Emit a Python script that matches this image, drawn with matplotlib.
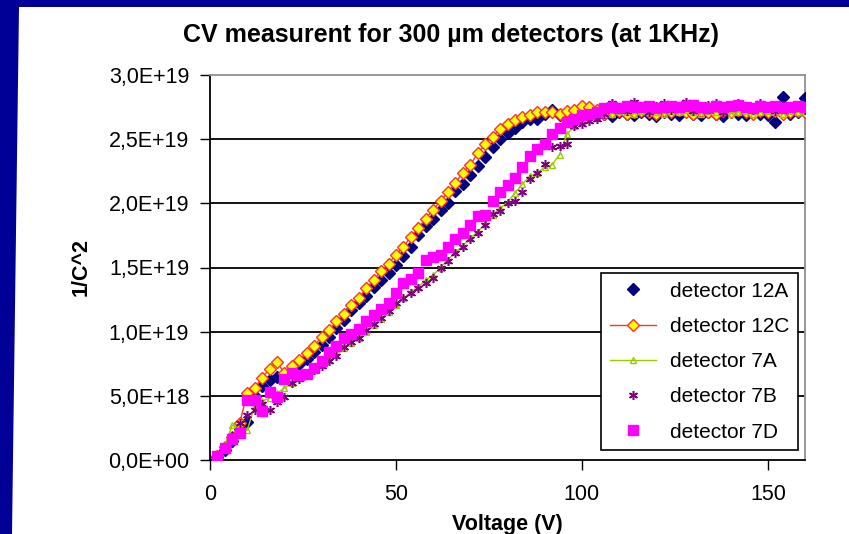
import matplotlib.pyplot as plt
from matplotlib.patches import Polygon
import numpy as np

plt.rcParams['font.family'] = ['Liberation Sans', 'DejaVu Sans']

# Data (1/C^2 in units of 1E+18)
voltage = [2, 4, 6, 8, 10, 12, 14, 16, 18, 20,
           22, 24, 26, 28, 30, 32, 34, 36, 38, 40,
           42, 44, 46, 48, 50, 52, 54, 56, 58, 60,
           62, 64, 66, 68, 70, 72, 74, 76, 78, 80,
           82, 84, 86, 88, 90, 92, 94, 96, 98, 100,
           102, 104, 106, 108, 110, 112, 114, 116, 118, 120,
           122, 124, 126, 128, 130, 132, 134, 136, 138, 140,
           142, 144, 146, 148, 150, 152, 154, 156, 158, 160]

det_12A = [0.2, 0.8, 1.5, 2.4, 3.0, 5.0, 5.8, 6.2, 6.5, 6.6,
           7.0, 7.5, 7.9, 8.4, 9.0, 9.6, 10.3, 10.9, 11.7, 12.2,
           12.8, 13.5, 14.0, 14.6, 15.2, 15.9, 16.6, 17.5, 18.2, 18.8,
           19.5, 20.0, 21.0, 21.5, 22.2, 22.9, 23.6, 24.4, 25.0, 25.5,
           25.9, 26.3, 26.6, 26.6, 27.0, 27.3, 26.9, 27.0, 27.1, 27.0,
           27.2, 26.9, 27.0, 26.8, 27.1, 27.0, 26.9, 27.1, 27.0, 26.8,
           27.1, 27.0, 26.9, 27.2, 27.0, 26.9, 27.1, 27.0, 26.8, 27.1,
           27.0, 26.9, 27.1, 27.0, 26.9, 26.3, 28.3, 27.0, 27.1, 28.2]

det_12C = [0.3, 1.0, 1.8, 2.9, 5.2, 5.6, 6.4, 7.1, 7.6, 6.8,
           7.3, 7.8, 8.3, 8.9, 9.6, 10.1, 10.8, 11.4, 12.1, 12.6,
           13.4, 14.0, 14.7, 15.3, 16.0, 16.6, 17.4, 18.1, 18.8, 19.5,
           20.2, 20.9, 21.6, 22.4, 23.0, 23.9, 24.6, 25.2, 25.8, 26.2,
           26.5, 26.7, 26.9, 27.1, 27.1, 27.1, 27.0, 27.2, 27.3, 27.6,
           27.5, 27.3, 27.0, 27.1, 27.2, 27.0, 27.1, 27.2, 27.1, 27.0,
           27.2, 27.1, 27.3, 27.1, 27.0, 27.2, 27.1, 27.0, 27.2, 27.1,
           27.3, 27.1, 27.0, 27.2, 27.1, 27.2, 27.0, 27.1, 27.2, 27.1]

det_7A = [0.3, 1.2, 2.7, 2.5, 2.3, 4.2, 4.6, 4.8, 5.2, 5.6,
          6.0, 6.4, 6.6, 7.0, 7.4, 7.8, 8.2, 8.7, 9.1, 9.5,
          10.0, 10.5, 11.0, 11.5, 12.1, 12.6, 13.1, 13.5, 14.0, 14.4,
          15.0, 15.6, 16.2, 16.7, 17.3, 17.8, 18.4, 19.1, 19.6, 20.1,
          20.8, 21.5, 22.1, 22.4, 22.8, 23.0, 23.8, 25.4, 26.0, 26.4,
          26.8, 27.0, 27.1, 27.0, 27.2, 27.1, 27.0, 27.2, 27.1, 27.1,
          27.0, 27.2, 27.1, 27.3, 27.1, 27.0, 27.2, 27.1, 27.2, 27.0,
          27.1, 27.2, 27.0, 27.1, 27.2, 27.1, 27.0, 27.2, 27.1, 27.2]

det_7B = [0.3, 1.0, 1.9, 2.9, 3.5, 3.9, 4.4, 3.9, 4.5, 4.9,
          6.0, 6.3, 6.6, 7.0, 7.3, 7.7, 8.1, 8.8, 9.2, 9.5,
          10.1, 10.6, 11.1, 11.6, 12.2, 12.6, 13.0, 13.4, 13.8, 14.2,
          15.0, 15.5, 16.1, 16.6, 17.2, 17.7, 18.3, 19.2, 19.4, 20.0,
          20.2, 20.9, 21.9, 22.4, 23.1, 24.4, 24.5, 24.6, 26.0, 26.2,
          26.4, 26.6, 27.0, 27.8, 27.5, 27.2, 27.9, 27.4, 27.1, 27.6,
          27.8, 27.3, 27.5, 27.9, 27.2, 27.4, 27.7, 27.8, 27.1, 27.5,
          27.8, 27.6, 27.3, 27.8, 27.5, 27.2, 27.7, 27.4, 27.6, 27.3]

det_7D = [0.3, 0.9, 1.6, 2.1, 4.7, 4.7, 3.8, 5.3, 4.9, 6.3,
          6.8, 6.6, 6.7, 7.2, 7.7, 8.4, 8.9, 9.5, 9.8, 10.2,
          10.8, 11.3, 11.8, 12.2, 13.0, 13.8, 14.1, 14.6, 15.6, 15.8,
          16.0, 16.6, 17.2, 17.7, 18.3, 19.0, 19.1, 20.2, 20.9, 21.4,
          22.0, 22.8, 23.7, 24.2, 24.6, 25.4, 25.9, 26.3, 26.6, 26.9,
          27.0, 27.1, 27.4, 27.5, 27.4, 27.6, 27.5, 27.5, 27.6, 27.4,
          27.5, 27.6, 27.5, 27.6, 27.7, 27.5, 27.4, 27.6, 27.5, 27.6,
          27.7, 27.5, 27.4, 27.6, 27.5, 27.6, 27.4, 27.5, 27.6, 27.5]

y_ticks = [0, 5e18, 1e19, 1.5e19, 2e19, 2.5e19, 3e19]
x_ticks = [0, 50, 100, 150]

scale = 1e18
v = np.array(voltage)

fig = plt.figure(figsize=(8.49, 5.34), dpi=100, facecolor='#000096')
# white slide panel
fig.patches.append(Polygon([(19 / 849, 1 - 7 / 534), (1, 1 - 7 / 534), (1, 0), (12 / 849, 0)],
                           closed=True, transform=fig.transFigure, facecolor='white',
                           edgecolor='none', zorder=-5))

ax = fig.add_axes([210 / 849, 1 - 460 / 534, 595 / 849, 385 / 534])
ax.set_zorder(5)
ax.set_facecolor('white')

ax.plot(v, np.array(det_12A) * scale, linestyle='none', marker='D', ms=6,
        mfc='#000080', mec='#000080', label='detector 12A', zorder=3)
ax.plot(v, np.array(det_12C) * scale, color='#FF3030', lw=1, marker='D', ms=6,
        mfc='#FFFF00', mec='#FF3030', mew=1, label='detector 12C', zorder=4)
ax.plot(v, np.array(det_7A) * scale, color='#99CC00', lw=1, marker='^', ms=4,
        mfc='none', mec='#99CC00', label='detector 7A', zorder=5)
ax.plot(v, np.array(det_7B) * scale, linestyle='none', marker=(6, 2, 0), ms=6.5,
        mec='#800080', mew=1.1, label='detector 7B', zorder=6)
ax.plot(v, np.array(det_7D) * scale, linestyle='none', marker='s', ms=7,
        mfc='#FF00FF', mec='#FF00FF', label='detector 7D', zorder=7)

for yt in y_ticks[1:-1]:
    ax.axhline(yt, color='black', lw=1.3, zorder=1)

ax.set_xlim(0, 160)
ax.set_ylim(0, 3e19)
ax.set_xticks(x_ticks)
ax.set_yticks(y_ticks)
ax.set_yticklabels([f'{t:.1E}'.replace('.', ',') for t in y_ticks])
ax.tick_params(direction='out', length=7, width=1, labelsize=15.5, pad=8)
ax.tick_params(axis='x', pad=10)

for s in ['left', 'bottom']:
    ax.spines[s].set_color('black')
    ax.spines[s].set_linewidth(1.3)
for s in ['top', 'right']:
    ax.spines[s].set_color('#909090')
    ax.spines[s].set_linewidth(1.3)

ax.set_xlabel('Voltage (V)', fontsize=15.5, fontweight='bold', labelpad=7)
ax.set_ylabel('1/C^2', fontsize=15.5, fontweight='bold', labelpad=12)
fig.text(451 / 849, 1 - 35 / 534, 'CV measurent for 300 \u00b5m detectors (at 1KHz)',
         ha='center', va='center', fontsize=18, fontweight='bold')

leg = ax.legend(loc='lower right', bbox_to_anchor=(0.988, 0.026), borderaxespad=0,
                fontsize=15, frameon=True, fancybox=False, edgecolor='black',
                framealpha=1, handlelength=2.2, labelspacing=0.78, borderpad=0.4,
                handletextpad=0.7)
leg.get_frame().set_linewidth(1.2)
leg.set_zorder(10)

fig.savefig('out.png', dpi=100, facecolor=fig.get_facecolor())
